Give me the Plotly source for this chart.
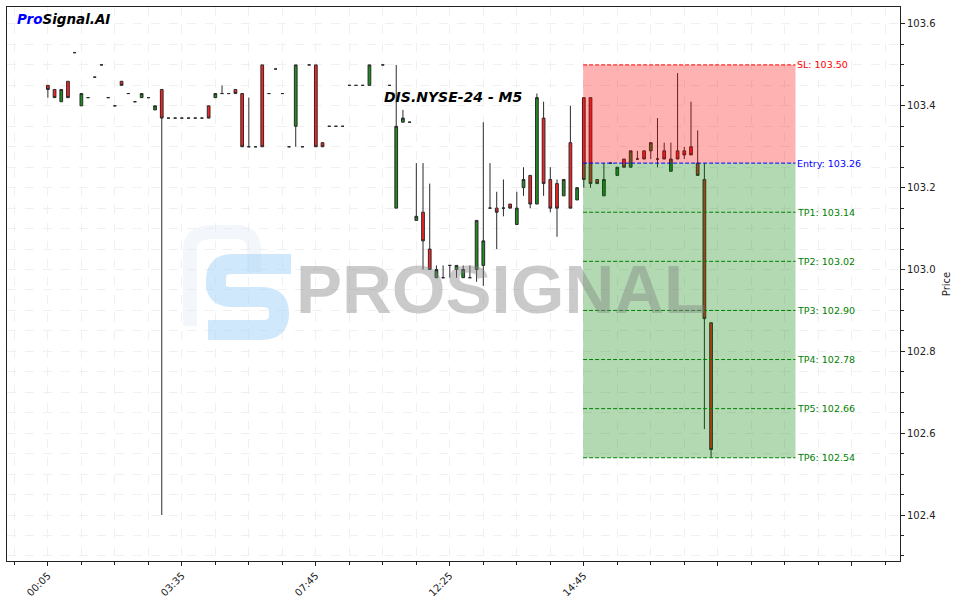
import plotly.graph_objects as go

# ---------------- data ----------------
tick_positions = [0, 20, 40, 60, 80, 100, 120]
tick_labels = ["00:05", "03:35", "07:45", "12:25", "14:45", "", ""]

opens = [103.45, 103.44, 103.41, 103.46, 103.53, 103.40, 103.42, 103.47, 103.50, 103.42,
         103.40, 103.46, 103.43, 103.41, 103.42, 103.42, 103.39, 103.44, 103.37, 103.37,
         103.37, 103.37, 103.37, 103.37, 103.40, 103.42, 103.43, 103.43, 103.44, 103.43,
         103.30, 103.30, 103.50, 103.43, 103.49, 103.43, 103.30, 103.35, 103.30, 103.50,
         103.50, 103.31, 103.35, 103.35, 103.35, 103.45, 103.45, 103.45, 103.45, None,
         103.50, 103.45, 103.15, 103.36, 103.36, 103.12, 103.14, 103.05, 102.98, 102.98,
         103.01, 103.00, 102.98, 102.98, 103.00, 103.01, 103.15, 103.15, 103.15, 103.16,
         103.11, 103.20, 103.23, 103.16, 103.37, 103.22, 103.21, 103.18, 103.31, 103.17,
         103.42, 103.42, 103.22, 103.18, 103.26, 103.23, 103.27, 103.25, 103.27, 103.29,
         103.29, 103.27, 103.29, 103.24, 103.29, 103.29, 103.30, 103.26, 103.22, 102.87]

highs = [103.45, 103.44, 103.44, 103.46, 103.53, 103.43, 103.42, 103.47, 103.50, 103.42,
         103.40, 103.46, 103.43, 103.41, 103.43, 103.42, 103.40, 103.44, 103.37, 103.37,
         103.37, 103.37, 103.37, 103.37, 103.40, 103.43, 103.45, 103.43, 103.44, 103.43,
         103.42, 103.30, 103.50, 103.43, 103.49, 103.43, 103.30, 103.50, 103.30, 103.50,
         103.50, 103.31, 103.35, 103.35, 103.35, 103.45, 103.45, 103.45, 103.50, None,
         103.50, 103.45, 103.50, 103.39, 103.36, 103.26, 103.26, 103.21, 103.01, 103.01,
         103.01, 103.01, 103.01, 103.01, 103.12, 103.36, 103.26, 103.19, 103.22, 103.16,
         103.19, 103.25, 103.23, 103.43, 103.41, 103.25, 103.22, 103.22, 103.40, 103.20,
         103.42, 103.42, 103.22, 103.26, 103.26, 103.25, 103.27, 103.29, 103.29, 103.29,
         103.31, 103.37, 103.31, 103.31, 103.48, 103.30, 103.41, 103.34, 103.26, 102.87]

lows = [103.42, 103.42, 103.41, 103.42, 103.53, 103.40, 103.42, 103.47, 103.50, 103.42,
        103.40, 103.45, 103.43, 103.41, 103.42, 103.42, 103.39, 102.40, 103.37, 103.37,
        103.37, 103.37, 103.37, 103.37, 103.37, 103.42, 103.43, 103.43, 103.43, 103.30,
        103.30, 103.30, 103.30, 103.43, 103.49, 103.43, 103.30, 103.30, 103.30, 103.50,
        103.30, 103.30, 103.35, 103.35, 103.35, 103.45, 103.45, 103.45, 103.45, None,
        103.50, 103.45, 103.15, 103.36, 103.36, 103.12, 103.00, 103.00, 102.98, 102.98,
        102.98, 102.98, 102.98, 102.98, 102.97, 102.96, 103.15, 103.05, 103.13, 103.15,
        103.11, 103.18, 103.15, 103.16, 103.18, 103.14, 103.08, 103.18, 103.15, 103.17,
        103.20, 103.20, 103.21, 103.18, 103.26, 103.23, 103.25, 103.25, 103.27, 103.27,
        103.27, 103.25, 103.27, 103.24, 103.27, 103.27, 103.28, 103.23, 102.61, 102.54]

closes = [103.44, 103.42, 103.44, 103.42, 103.53, 103.43, 103.42, 103.47, 103.50, 103.42,
          103.40, 103.45, 103.43, 103.41, 103.43, 103.42, 103.40, 103.37, 103.37, 103.37,
          103.37, 103.37, 103.37, 103.37, 103.37, 103.43, 103.43, 103.43, 103.43, 103.30,
          103.30, 103.30, 103.30, 103.43, 103.49, 103.43, 103.30, 103.50, 103.30, 103.50,
          103.30, 103.30, 103.35, 103.35, 103.35, 103.45, 103.45, 103.45, 103.50, None,
          103.50, 103.45, 103.35, 103.37, 103.36, 103.13, 103.07, 103.00, 103.00, 102.98,
          103.01, 103.01, 103.00, 102.98, 103.12, 103.07, 103.15, 103.14, 103.15, 103.15,
          103.15, 103.22, 103.16, 103.42, 103.21, 103.15, 103.15, 103.22, 103.15, 103.20,
          103.22, 103.21, 103.21, 103.22, 103.26, 103.25, 103.25, 103.29, 103.27, 103.27,
          103.31, 103.27, 103.27, 103.27, 103.27, 103.28, 103.28, 103.23, 102.88, 102.56]

zone_start = 79.9
zone_end = 111.6
sl_level = 103.50
entry_level = 103.26
tp_levels = [103.14, 103.02, 102.90, 102.78, 102.66, 102.54]

title_text = "DIS.NYSE-24 - M5"

# ---------------- figure ----------------
idx = [i for i in range(len(opens)) if opens[i] is not None]
fig = go.Figure()
fig.add_trace(go.Candlestick(
    x=idx,
    open=[opens[i] for i in idx],
    high=[highs[i] for i in idx],
    low=[lows[i] for i in idx],
    close=[closes[i] for i in idx],
    increasing=dict(fillcolor="#1f8c1f", line=dict(color="#2b2b2b", width=1)),
    decreasing=dict(fillcolor="#ff1f1f", line=dict(color="#2b2b2b", width=1)),
    whiskerwidth=0,
    showlegend=False,
    hoverinfo="skip",
))

shapes = []
shapes.append(dict(type="rect", xref="x", yref="y", x0=zone_start, x1=zone_end,
                   y0=entry_level, y1=sl_level, fillcolor="rgba(255,0,0,0.3)",
                   line=dict(width=0), layer="above"))
shapes.append(dict(type="rect", xref="x", yref="y", x0=zone_start, x1=zone_end,
                   y0=min(tp_levels), y1=entry_level, fillcolor="rgba(0,128,0,0.3)",
                   line=dict(width=0), layer="above"))
shapes.append(dict(type="line", xref="x", yref="y", x0=zone_start, x1=zone_end,
                   y0=sl_level, y1=sl_level, line=dict(color="red", width=1, dash="4px,2px"),
                   layer="above"))
shapes.append(dict(type="line", xref="x", yref="y", x0=zone_start, x1=zone_end,
                   y0=entry_level, y1=entry_level, line=dict(color="blue", width=1, dash="4px,2px"),
                   layer="above"))
for tp in tp_levels:
    shapes.append(dict(type="line", xref="x", yref="y", x0=zone_start, x1=zone_end,
                       y0=tp, y1=tp, line=dict(color="green", width=1, dash="4px,2px"),
                       layer="above"))

# logo watermark (decorative), pixel -> paper conversion
PL, PR, PT, PB = 7, 900, 7, 561
def px(x):
    return (x - PL) / (PR - PL)
def py(y):
    return (PB - y) / (PB - PT)
def path_from(points):
    parts = []
    for cmd, pts in points:
        coords = " ".join(f"{px(a):.4f},{py(b):.4f}" for a, b in pts)
        parts.append(f"{cmd} {coords}")
    return " ".join(parts)

p_logo = path_from([("M", [(190, 326)]), ("L", [(190, 250)]), ("Q", [(190, 232), (212, 232)]),
                    ("L", [(236, 232)]), ("Q", [(254, 232), (254, 250)]), ("L", [(254, 272)])])
shapes.append(dict(type="path", xref="paper", yref="paper", path=p_logo,
                   line=dict(color="rgba(220,228,240,0.35)", width=14), layer="above"))
s_logo = path_from([("M", [(291, 264)]), ("L", [(232, 264)]), ("Q", [(216, 264), (216, 280)]),
                    ("L", [(216, 284)]), ("Q", [(216, 297), (232, 297)]), ("L", [(262, 297)]),
                    ("Q", [(279, 297), (279, 313)]), ("L", [(279, 314)]), ("Q", [(279, 330), (262, 330)]),
                    ("L", [(208, 330)])])
shapes.append(dict(type="path", xref="paper", yref="paper", path=s_logo,
                   line=dict(color="rgba(160,210,248,0.5)", width=20), layer="above"))

annotations = []
annotations.append(dict(xref="paper", yref="paper", x=px(501), y=py(289), text="<b>PROSIGNAL</b>",
                        showarrow=False, xanchor="center", yanchor="middle",
                        font=dict(family="Liberation Sans, Arial", size=69, color="rgba(128,128,128,0.42)")))
annotations.append(dict(xref="paper", yref="paper", x=0.5, y=py(97), text=f"<b><i>{title_text}</i></b>",
                        showarrow=False, xanchor="center", yanchor="middle",
                        font=dict(family="DejaVu Sans", size=14, color="black")))
annotations.append(dict(xref="paper", yref="paper", x=px(15), y=py(19),
                        text="<b><i><span style='color:#0000ff'>Pro</span>Signal.AI</i></b>",
                        showarrow=False, xanchor="left", yanchor="middle",
                        font=dict(family="DejaVu Sans", size=13.5, color="black")))

label_font = dict(family="DejaVu Sans", size=9.5)
annotations.append(dict(xref="x", yref="y", x=zone_end, y=sl_level, text=f"SL: {sl_level:.2f}",
                        showarrow=False, xanchor="left", yanchor="middle",
                        font=dict(**label_font, color="red")))
annotations.append(dict(xref="x", yref="y", x=zone_end, y=entry_level, text=f"Entry: {entry_level:.2f}",
                        showarrow=False, xanchor="left", yanchor="middle",
                        font=dict(**label_font, color="blue")))
for k, tp in enumerate(tp_levels):
    annotations.append(dict(xref="x", yref="y", x=zone_end, y=tp, text=f"TP{k+1}: {tp:.2f}",
                            showarrow=False, xanchor="left", yanchor="middle",
                            font=dict(**label_font, color="green")))

grid_color = "#f0f0f0"
fig.update_layout(
    width=956, height=603,
    margin=dict(l=PL, r=956 - PR, t=PT, b=603 - PB, autoexpand=False),
    paper_bgcolor="white", plot_bgcolor="white",
    boxgap=0.42,
    shapes=shapes, annotations=annotations,
    font=dict(family="DejaVu Sans", size=10, color="#222"),
    xaxis=dict(
        range=[-6.1, 127.2], rangeslider=dict(visible=False),
        tickmode="array", tickvals=tick_positions, ticktext=tick_labels,
        tickangle=-45, ticks="outside", ticklen=4, tickcolor="#222",
        showline=True, linecolor="#222", linewidth=1, mirror=True,
        showgrid=True, gridcolor=grid_color, griddash="dash", gridwidth=1,
        minor=dict(dtick=5, tick0=0, ticks="outside", ticklen=2.5, tickcolor="#222",
                   showgrid=True, gridcolor=grid_color, griddash="dash"),
        zeroline=False, tickfont=dict(size=10),
    ),
    yaxis=dict(
        side="right", range=[102.2877, 103.6415],
        tickmode="linear", tick0=102.4, dtick=0.2, tickformat=".1f",
        ticks="outside", ticklen=4, tickcolor="#222",
        showline=True, linecolor="#222", linewidth=1, mirror=True,
        showgrid=True, gridcolor=grid_color, griddash="dash", gridwidth=1,
        minor=dict(dtick=0.05, tick0=102.4, ticks="outside", ticklen=2.5, tickcolor="#222",
                   showgrid=True, gridcolor=grid_color, griddash="dash"),
        zeroline=False, tickfont=dict(size=10),
        title=dict(text="Price", font=dict(size=10), standoff=8),
    ),
)

fig.write_html("out.html", config={"displayModeBar": False},
               post_script="document.body.style.margin='0';document.body.style.padding='0';")
